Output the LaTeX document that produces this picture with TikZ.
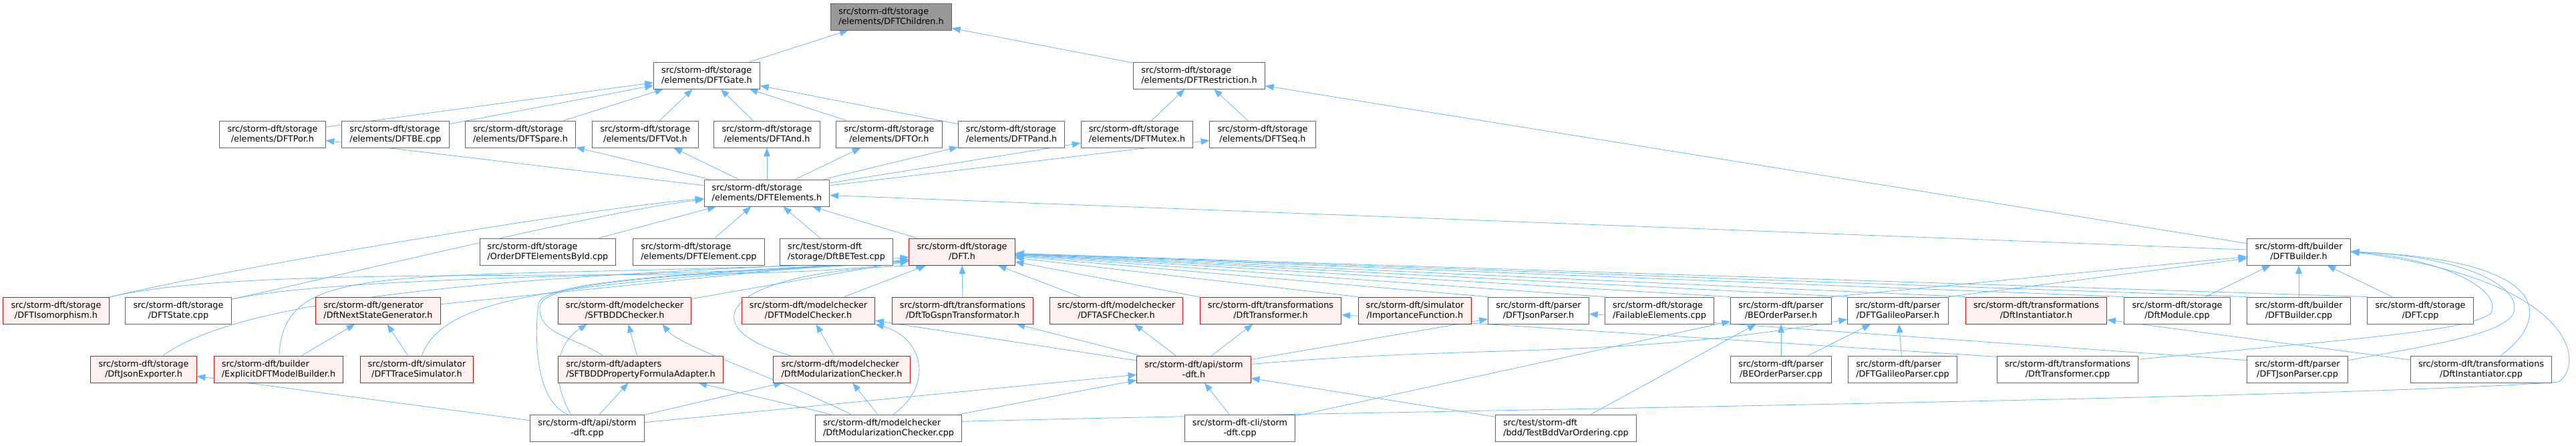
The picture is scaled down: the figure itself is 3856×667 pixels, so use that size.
\documentclass[tikz,border=0pt]{standalone}
\usepackage{fontspec}
\setmainfont{DejaVu Sans}
\usepackage{tikz}
\usetikzlibrary{arrows.meta,backgrounds}
\definecolor{dxEdge}{HTML}{63B8FF}
\definecolor{dxFrame}{HTML}{666666}
\definecolor{dxRed}{HTML}{FF0000}
\definecolor{dxRose}{HTML}{FFF0F0}
\definecolor{dxRoot}{HTML}{999999}
\newsavebox\dxTop
\newsavebox\dxBot
\newlength\dxWid
\newcommand\dxfont{\fontsize{9.1pt}{10.7pt}\selectfont}
%% first line flush left, second line centred (as graphviz does)
\newcommand\fpath[2]{%
  \sbox\dxTop{#1}\sbox\dxBot{#2}%
  \setlength\dxWid{\wd\dxTop}%
  \ifdim\wd\dxBot>\dxWid \setlength\dxWid{\wd\dxBot}\fi
  \vbox{\hbox to\dxWid{#1\hfil}\hbox to\dxWid{\hfil#2\hfil}}}
\tikzset{
  filebox/.style ={draw=dxFrame,fill=white,line width=0.25mm,minimum height=10mm,
                   inner xsep=2.9mm,inner ysep=0pt,font=\dxfont},
  redbox/.style  ={filebox,draw=dxRed,fill=dxRose},
  rootbox/.style ={filebox,fill=dxRoot},
  dep/.style     ={-{Triangle[length=3.2mm,width=2.4mm]},dxEdge,line width=0.2mm},
}

\begin{document}
\begin{tikzpicture}[x=0.25mm,y=0.25mm]
\useasboundingbox (0,0) rectangle (3856,-667);
\node[rootbox] (children) at (1334,-25)
  {\fpath{src/storm-dft/storage}{/elements/DFTChildren.h}};
\foreach \nm/\x/\y/\la/\lb in {
  gate/1058/113/{src/storm-dft/storage}/{/elements/DFTGate.h},
  restr/1795/113/{src/storm-dft/storage}/{/elements/DFTRestriction.h},
  por/408/201/{src/storm-dft/storage}/{/elements/DFTPor.h},
  becpp/592/201/{src/storm-dft/storage}/{/elements/DFTBE.cpp},
  spare/779/201/{src/storm-dft/storage}/{/elements/DFTSpare.h},
  vot/966/201/{src/storm-dft/storage}/{/elements/DFTVot.h},
  gand/1148/201/{src/storm-dft/storage}/{/elements/DFTAnd.h},
  gor/1331/201/{src/storm-dft/storage}/{/elements/DFTOr.h},
  pand/1514/201/{src/storm-dft/storage}/{/elements/DFTPand.h},
  mutex/1702/201/{src/storm-dft/storage}/{/elements/DFTMutex.h},
  seq/1890/201/{src/storm-dft/storage}/{/elements/DFTSeq.h},
  elems/1148/289/{src/storm-dft/storage}/{/elements/DFTElements.h},
  orderid/820/377/{src/storm-dft/storage}/{/OrderDFTElementsById.cpp},
  elemcpp/1046/377/{src/storm-dft/storage}/{/elements/DFTElement.cpp},
  betest/1252/377/{src/test/storm-dft}/{/storage/DftBETest.cpp},
  builder/3441/377/{src/storm-dft/builder}/{/DFTBuilder.h},
  statecpp/267/465/{src/storm-dft/storage}/{/DFTState.cpp},
  jsonp/2303/465/{src/storm-dft/parser}/{/DFTJsonParser.h},
  failcpp/2484/465/{src/storm-dft/storage}/{/FailableElements.cpp},
  beordp/2666/465/{src/storm-dft/parser}/{/BEOrderParser.h},
  galp/2841/465/{src/storm-dft/parser}/{/DFTGalileoParser.h},
  modcpp/3259/465/{src/storm-dft/storage}/{/DftModule.cpp},
  buildcpp/3441/465/{src/storm-dft/builder}/{/DFTBuilder.cpp},
  dftcpp/3623/465/{src/storm-dft/storage}/{/DFT.cpp},
  beordcpp/2666/553/{src/storm-dft/parser}/{/BEOrderParser.cpp},
  galcpp/2848/553/{src/storm-dft/parser}/{/DFTGalileoParser.cpp},
  trafocpp/3095/553/{src/storm-dft/transformations}/{/DftTransformer.cpp},
  jsoncpp/3439/553/{src/storm-dft/parser}/{/DFTJsonParser.cpp},
  instcpp/3714/553/{src/storm-dft/transformations}/{/DftInstantiator.cpp},
  apicpp/879/641/{src/storm-dft/api/storm}/{-dft.cpp},
  modularcpp/1330/641/{src/storm-dft/modelchecker}/{/DftModularizationChecker.cpp},
  clicpp/1856/641/{src/storm-dft-cli/storm}/{-dft.cpp},
  bddtest/2344/641/{src/test/storm-dft}/{/bdd/TestBddVarOrdering.cpp}}
  \node[filebox] (\nm) at (\x,-\y) {\fpath{\la}{\lb}};
\foreach \nm/\x/\y/\la/\lb in {
  dft/1440/377/{src/storm-dft/storage}/{/DFT.h},
  iso/84/465/{src/storm-dft/storage}/{/DFTIsomorphism.h},
  nextgen/566/465/{src/storm-dft/generator}/{/DftNextStateGenerator.h},
  sftbdd/935/465/{src/storm-dft/modelchecker}/{/SFTBDDChecker.h},
  mc/1210/465/{src/storm-dft/modelchecker}/{/DFTModelChecker.h},
  gspn/1441/465/{src/storm-dft/transformations}/{/DftToGspnTransformator.h},
  asf/1671/465/{src/storm-dft/modelchecker}/{/DFTASFChecker.h},
  trafo/1902/465/{src/storm-dft/transformations}/{/DftTransformer.h},
  impfn/2118/465/{src/storm-dft/simulator}/{/ImportanceFunction.h},
  inst/3048/465/{src/storm-dft/transformations}/{/DftInstantiator.h},
  jsonexp/215/553/{src/storm-dft/storage}/{/DftJsonExporter.h},
  explbuild/417/553/{src/storm-dft/builder}/{/ExplicitDFTModelBuilder.h},
  tracesim/624/553/{src/storm-dft/simulator}/{/DFTTraceSimulator.h},
  sftadapt/959/553/{src/storm-dft/adapters}/{/SFTBDDPropertyFormulaAdapter.h},
  modular/1260/553/{src/storm-dft/modelchecker}/{/DftModularizationChecker.h},
  apih/1787/553/{src/storm-dft/api/storm}/{-dft.h}}
  \node[redbox] (\nm) at (\x,-\y) {\fpath{\la}{\lb}};

\begin{scope}[on background layer]
%% straight includes
\foreach \a/\b in {gate/children,restr/children,
  por/gate,becpp/gate,spare/gate,vot/gate,gand/gate,gor/gate,pand/gate,
  mutex/restr,seq/restr,builder/restr,
  elems/por,elems/spare,elems/vot,elems/gand,elems/gor,elems/pand,elems/mutex,elems/seq,
  orderid/elems,elemcpp/elems,betest/elems,dft/elems,builder/elems,
  sftbdd/dft,nextgen/dft,mc/dft,gspn/dft,asf/dft,trafo/dft,
  explbuild/nextgen,tracesim/nextgen,sftadapt/sftbdd,
  apicpp/sftadapt,apicpp/jsonexp,apicpp/modular,apicpp/apih,
  modularcpp/sftadapt,modularcpp/modular,modularcpp/apih,modular/mc,
  apih/mc,apih/gspn,apih/asf,apih/trafo,apih/jsonp,
  clicpp/apih,clicpp/beordp,bddtest/apih,bddtest/beordp,
  beordcpp/beordp,beordcpp/galp,galcpp/galp,instcpp/inst,
  modcpp/builder,buildcpp/builder,dftcpp/builder}
  \draw[dep] (\a) -- (\b);
\foreach \a in {impfn,jsonp,failcpp,beordp,galp,inst,modcpp,buildcpp,dftcpp}
  \draw[dep] (\a.north west) -- (dft);
\draw[dep] (beordp.north east) -- (builder);
\draw[dep] (galp.north east) -- (builder);
\draw[dep] (trafocpp.170) -- (trafo);
\draw[dep] (jsoncpp.170) -- (jsonp);
\draw[dep] (apih) to[out=5,in=190] (galp);
%% left side sweeping into DFT.h
\draw[dep] (iso) to[out=14,in=185,looseness=0.5] (elems);
\draw[dep] (statecpp) to[out=12,in=186,looseness=0.5] (elems);
\draw[dep] (iso) to[out=14,in=190,looseness=0.5] (dft);
\draw[dep] (statecpp) to[out=12,in=188,looseness=0.5] (dft);
\draw[dep] (jsonexp) .. controls (360,-450) and (700,-415) .. (dft.190);
\draw[dep] (explbuild) .. controls (425,-380) and (600,-425) .. (dft.190);
\draw[dep] (tracesim) .. controls (665,-440) and (850,-425) .. (dft.190);
\draw[dep] (sftadapt.160) .. controls (860,-505) and (805,-500) .. (808,-460)
  .. controls (810,-425) and (950,-415) .. (dft.190);
\draw[dep] (apicpp.145) .. controls (800,-600) and (800,-500) .. (806,-455)
  .. controls (815,-425) and (960,-412) .. (dft.190);
\draw[dep] (modular.165) .. controls (1030,-490) and (1080,-405) .. (dft.200);
\draw[dep] (apicpp.140) .. controls (830,-580) and (825,-520) .. (sftbdd.200);
\draw[dep] (modularcpp.160) .. controls (1150,-560) and (1020,-520) .. (sftbdd.-20);
\draw[dep] (modularcpp.70) .. controls (1400,-575) and (1380,-505) .. (mc.south east);
%% round the right edge into DFTBuilder.h
\draw[dep] (trafocpp.8) .. controls (3560,-505) and (3690,-495) .. (3728,-470)
  .. controls (3748,-435) and (3660,-388) .. (builder.east);
\draw[dep] (jsoncpp.10) .. controls (3650,-515) and (3745,-500) .. (3762,-470)
  .. controls (3778,-430) and (3690,-384) .. (builder.east);
\draw[dep] (instcpp.35) .. controls (3815,-480) and (3830,-390) .. (builder.east);
\draw[dep] (modularcpp.5) .. controls (1900,-618) and (3500,-598) .. (3830,-572)
  .. controls (3870,-545) and (3855,-420) .. (builder.east);
\end{scope}
\end{tikzpicture}
\end{document}
